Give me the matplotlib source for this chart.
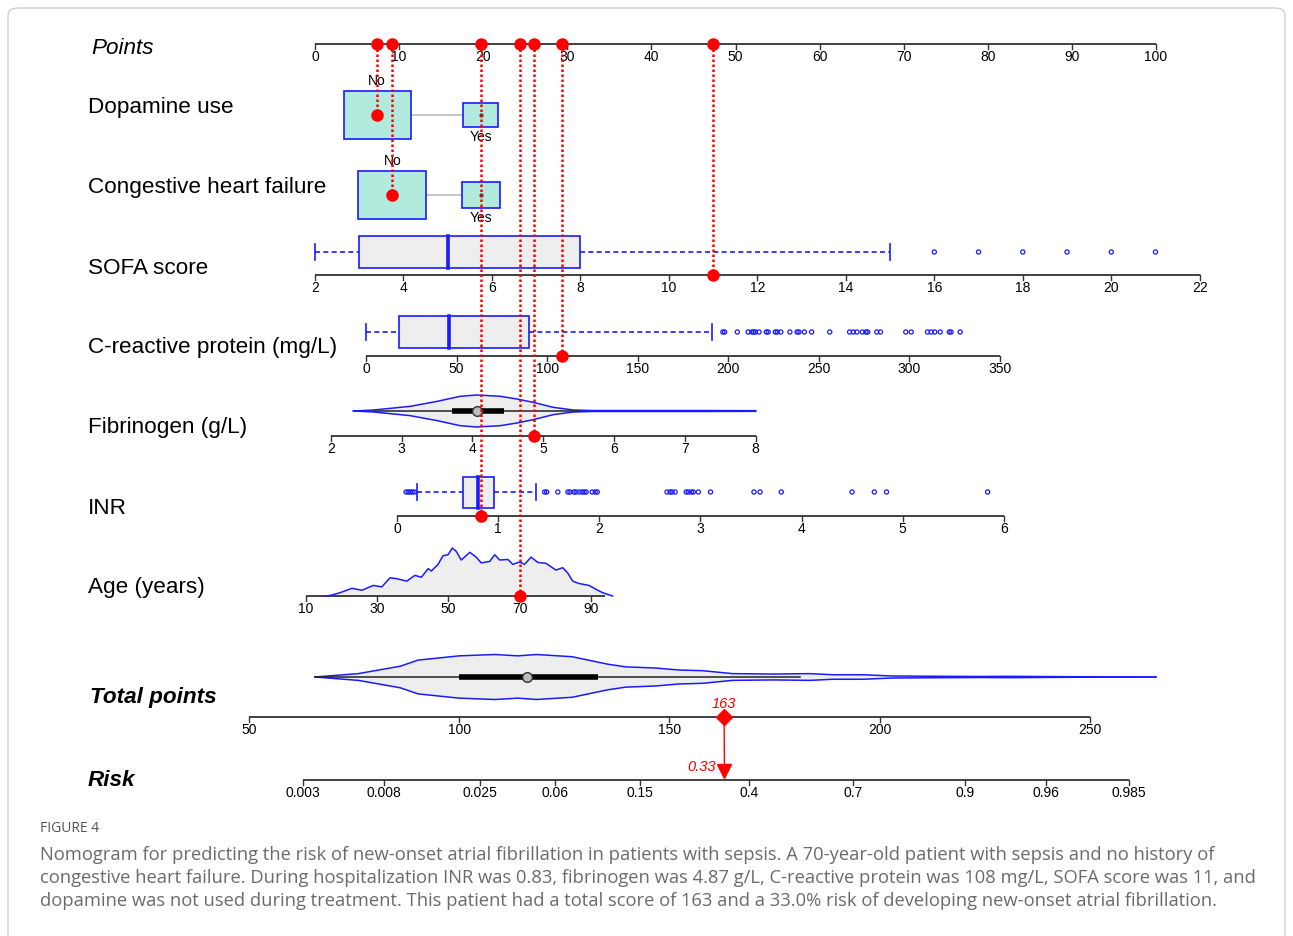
import numpy as np
import matplotlib
matplotlib.use('Agg')
import matplotlib.pyplot as plt
from matplotlib.patches import Rectangle, FancyBboxPatch

plt.rcParams['font.family'] = ['Liberation Sans', 'DejaVu Sans']

# ---- data ----
# categorical rows: points for No / Yes
dop_points = {'No': 7.4, 'Yes': 19.7}
chf_points = {'No': 9.2, 'Yes': 19.7}

# continuous rows: value range and the points that range spans
sofa_rng, sofa_pts = (2, 22), (0.0, 105.2)
crp_rng, crp_pts = (0, 350), (6.06, 81.45)
fib_rng, fib_pts = (2, 8), (1.87, 52.4)
inr_rng, inr_pts = (0, 6), (9.75, 81.9)
age_rng, age_pts = (10, 90), (-1.07, 32.8)
tot_rng, tot_pts = (50, 250), (-7.85, 92.15)
risk_a, risk_b = -9.0, 0.05085   # logit(risk) = a + b * total

sofa_ticks = list(range(2, 23, 2))
crp_ticks = list(range(0, 351, 50))
fib_ticks = list(range(2, 9))
inr_ticks = list(range(0, 7))
age_ticks = [10, 30, 50, 70, 90]
tot_ticks = [50, 100, 150, 200, 250]
risk_ticks = [0.003, 0.008, 0.025, 0.06, 0.15, 0.4, 0.7, 0.9, 0.96, 0.985]
risk_labels = ['0.003', '0.008', '0.025', '0.06', '0.15', '0.4', '0.7', '0.9', '0.96', '0.985']

# box plot summaries
sofa_box = dict(lo=2, q1=3, med=5, q3=8, hi=15)
sofa_out = [16, 17, 18, 19, 20, 21]
crp_box = dict(lo=0, q1=18, med=46, q3=90, hi=191)
crp_out = [197, 198, 205, 211, 213, 214, 215, 217, 221, 222, 226, 227, 229, 234,
           238, 239, 242, 246, 256, 267, 269, 271, 274, 276, 277, 282, 284, 298,
           301, 310, 312, 314, 317, 322, 323, 328]
inr_box = dict(lo=0.20, q1=0.65, med=0.80, q3=0.96, hi=1.37)
inr_out = [0.09, 0.11, 0.13, 0.15, 0.17, 1.46, 1.48, 1.59, 1.69, 1.71, 1.75, 1.77,
           1.80, 1.83, 1.85, 1.87, 1.93, 1.96, 1.98, 2.67, 2.70, 2.72, 2.75, 2.86,
           2.88, 2.91, 2.93, 2.98, 3.10, 3.53, 3.59, 3.80, 4.50, 4.72, 4.84, 5.84]

# fibrinogen violin (relative half-width)
fib_x = [2.32, 2.6, 3.12, 3.5, 3.83, 4.06, 4.39, 4.63, 4.86, 5.14, 5.43, 5.7, 6.5, 7.3, 8.0]
fib_w = [0, 0.06, 0.29, 0.6, 0.92, 1.0, 0.92, 0.75, 0.54, 0.23, 0.06, 0.03, 0.03, 0.03, 0.02]
fib_inner = dict(lo=2.6, q1=3.71, med=4.07, q3=4.44, hi=5.5)

# age density (relative height)
age_x = [15, 16.8, 19.6, 22.9, 25.7, 28.9, 31.3, 33.6, 35.5, 38.3, 40.6, 42.4, 44.3,
         45.2, 47.1, 48.5, 49.9, 51.1, 52.2, 53.6, 56, 57.8, 59.2, 61.6, 63, 64.4,
         66.7, 68.1, 70, 71.4, 73.2, 75.1, 77.4, 80.2, 82.1, 83.5, 84.9, 86.7, 89.5,
         91.4, 93.3, 96.1]
age_d = [0, 0.01, 0.07, 0.16, 0.12, 0.22, 0.19, 0.38, 0.36, 0.31, 0.43, 0.39, 0.57,
         0.52, 0.66, 0.84, 0.86, 1.0, 0.93, 0.75, 0.91, 0.81, 0.69, 0.72, 0.86, 0.75,
         0.76, 0.66, 0.71, 0.66, 0.81, 0.70, 0.68, 0.54, 0.59, 0.48, 0.31, 0.26, 0.22,
         0.14, 0.07, 0.0]

# total points violin (relative half-width)
tot_x = [65.7, 76, 86, 90.2, 100, 108.5, 114, 118.4, 126.9, 135.3, 139.6, 146.6,
         152.3, 157.9, 165, 174.8, 183.3, 189, 196, 203, 210, 224, 231, 245, 265.7]
tot_w = [0, 0.15, 0.48, 0.75, 0.94, 1.0, 0.94, 1.0, 0.9, 0.57, 0.45, 0.4, 0.31, 0.28,
         0.15, 0.13, 0.15, 0.1, 0.1, 0.045, 0.036, 0.022, 0.03, 0.013, 0]
tot_inner = dict(lo=65.7, q1=100, med=116, q3=133, hi=181)

# the example patient
patient = dict(dop='No', chf='No', sofa=11, crp=108, fib=4.87, inr=0.83, age=70)
patient_total = 163
patient_risk = 0.33


def lin(v, rng, pts):
    v = np.asarray(v, dtype=float)
    return pts[0] + (v - rng[0]) / (rng[1] - rng[0]) * (pts[1] - pts[0])


def risk_to_pts(r):
    r = np.asarray(r, dtype=float)
    t = (np.log(r / (1 - r)) - risk_a) / risk_b
    return lin(t, tot_rng, tot_pts)


BLUE = '#1a1aff'
RED = '#ff0000'
AX = '#333333'
LABEL_FS = 16.2
TICK_FS = 10

fig = plt.figure(figsize=(12.93, 9.36), dpi=100)
ax = fig.add_axes([0, 0, 1, 1])
ax.set_xlim(-315 / 8.41, (1293 - 315) / 8.41)
ax.set_ylim(936, 0)
ax.axis('off')

# frame
ax.add_patch(FancyBboxPatch((8 / 1293, -0.05), 1277 / 1293, 1.05 - 8 / 936,
                            boxstyle='round,pad=0,rounding_size=0.008',
                            transform=ax.transAxes, fc='none', ec='#d0d0d0', lw=1))


def draw_axis(y, ticks, xs, labels, x0=None, x1=None, fs=TICK_FS):
    xs = list(xs)
    a = xs[0] if x0 is None else x0
    b = xs[-1] if x1 is None else x1
    ax.plot([a, b], [y, y], color=AX, lw=1.3, solid_capstyle='butt', zorder=2)
    for x, lab in zip(xs, labels):
        ax.plot([x, x], [y, y + 5], color=AX, lw=1, zorder=2)
        ax.text(x, y + 13, lab, ha='center', va='center', fontsize=fs, color='black')


def boxplot(y, box, out, rng, pts, hh=16):
    q1, q3 = lin(box['q1'], rng, pts), lin(box['q3'], rng, pts)
    lo, hi, md = lin(box['lo'], rng, pts), lin(box['hi'], rng, pts), lin(box['med'], rng, pts)
    ax.add_patch(Rectangle((q1, y - hh), q3 - q1, 2 * hh, fc='#eeeeee', ec=BLUE, lw=1.2, zorder=3))
    ax.plot([md, md], [y - hh, y + hh], color=BLUE, lw=2.6, zorder=4)
    ax.plot([lo, q1], [y, y], color=BLUE, lw=1.2, ls=(0, (3, 2)), zorder=3)
    ax.plot([q3, hi], [y, y], color=BLUE, lw=1.2, ls=(0, (3, 2)), zorder=3)
    for c in (lo, hi):
        ax.plot([c, c], [y - 8, y + 8], color=BLUE, lw=1.2, zorder=3)
    ax.scatter(lin(out, rng, pts), [y] * len(out), s=9, facecolors='none',
               edgecolors=BLUE, linewidths=0.9, zorder=3)


def violin(y, xs, ws, inner, hw):
    xs = np.asarray(xs)
    ws = np.asarray(ws) * hw
    ax.fill_between(xs, y - ws, y + ws, color='#eeeeee', lw=0, zorder=2)
    ax.plot(xs, y - ws, color=BLUE, lw=1.1, zorder=3)
    ax.plot(xs, y + ws, color=BLUE, lw=1.1, zorder=3)
    ax.plot([inner['lo'], inner['hi']], [y, y], color='#222222', lw=1.1, zorder=4)
    ax.plot([inner['q1'], inner['q3']], [y, y], color='black', lw=4, solid_capstyle='butt', zorder=4)
    ax.plot(inner['med'], y, 'o', ms=7, mfc='#bbbbbb', mec='#333333', mew=1, zorder=5)


def catrow(y, pts, sizes):
    no, yes = pts['No'], pts['Yes']
    (wn, hn), (wy, hy) = sizes
    ax.plot([no + wn, yes - wy], [y, y], color='#bbbbbb', lw=1.2, zorder=2)
    ax.add_patch(Rectangle((no - wn, y - hn), 2 * wn, 2 * hn, fc='#b3eade', ec=BLUE, lw=1.2, zorder=3))
    ax.add_patch(Rectangle((yes - wy, y - hy), 2 * wy, 2 * hy, fc='#b3eade', ec=BLUE, lw=1.2, zorder=3))
    ax.plot(yes, y, 'o', ms=2, color='#333333', zorder=4)
    ax.text(no, y - hn - 10, 'No', ha='center', va='center', fontsize=TICK_FS)
    ax.text(yes, y + hy + 10, 'Yes', ha='center', va='center', fontsize=TICK_FS)


# ---- row labels ----
LX = -(315 - 88) / 8.41
ax.text(-(315 - 91) / 8.41, 49, 'Points', fontsize=LABEL_FS, style='italic', va='center')
rows = [('Dopamine use', 108), ('Congestive heart failure', 188), ('SOFA score', 268),
        ('C-reactive protein (mg/L)', 348), ('Fibrinogen (g/L)', 428), ('INR', 508),
        ('Age (years)', 588)]
for name, y in rows:
    ax.text(LX, y, name, fontsize=LABEL_FS, va='center')
ax.text(-(315 - 90) / 8.41, 697, 'Total points', fontsize=LABEL_FS, style='italic', weight='bold', va='center')
ax.text(LX, 781, 'Risk', fontsize=LABEL_FS, style='italic', weight='bold', va='center')

# ---- points axis ----
pt_ticks = list(range(0, 101, 10))
draw_axis(44, pt_ticks, pt_ticks, [str(t) for t in pt_ticks])

# ---- categorical rows ----
catrow(115, dop_points, ((4.0, 24), (2.05, 12)))
catrow(195, chf_points, ((4.05, 24), (2.25, 13)))

# ---- SOFA ----
boxplot(252, sofa_box, sofa_out, sofa_rng, sofa_pts)
draw_axis(275, sofa_ticks, lin(sofa_ticks, sofa_rng, sofa_pts), [str(t) for t in sofa_ticks])

# ---- CRP ----
boxplot(332, crp_box, crp_out, crp_rng, crp_pts)
draw_axis(356, crp_ticks, lin(crp_ticks, crp_rng, crp_pts), [str(t) for t in crp_ticks])

# ---- Fibrinogen ----
fi = {k: float(lin(v, fib_rng, fib_pts)) for k, v in fib_inner.items()}
violin(411, lin(fib_x, fib_rng, fib_pts), fib_w, fi, 16)
draw_axis(436, fib_ticks, lin(fib_ticks, fib_rng, fib_pts), [str(t) for t in fib_ticks])

# ---- INR ----
boxplot(492, inr_box, inr_out, inr_rng, inr_pts, hh=15.5)
draw_axis(516, inr_ticks, lin(inr_ticks, inr_rng, inr_pts), [str(t) for t in inr_ticks])

# ---- Age ----
ax_x = lin(age_x, age_rng, age_pts)
ad = np.asarray(age_d) * 48
ax.fill_between(ax_x, 596 - ad, 596, color='#eeeeee', lw=0, zorder=1)
ax.plot(ax_x, 596 - ad, color=BLUE, lw=1.1, zorder=3)
draw_axis(596, age_ticks, lin(age_ticks, age_rng, age_pts), [str(t) for t in age_ticks],
          x1=float(lin(94, age_rng, age_pts)))

# ---- Total points ----
ti = {k: float(lin(v, tot_rng, tot_pts)) for k, v in tot_inner.items()}
violin(677, lin(tot_x, tot_rng, tot_pts), tot_w, ti, 22.5)
draw_axis(717, tot_ticks, lin(tot_ticks, tot_rng, tot_pts), [str(t) for t in tot_ticks])

# ---- Risk ----
draw_axis(780, risk_ticks, risk_to_pts(risk_ticks), risk_labels)

# ---- patient lines ----
p_vals = [
    (dop_points[patient['dop']], 115),
    (chf_points[patient['chf']], 195),
    (float(lin(patient['sofa'], sofa_rng, sofa_pts)), 275),
    (float(lin(patient['crp'], crp_rng, crp_pts)), 356),
    (float(lin(patient['fib'], fib_rng, fib_pts)), 436),
    (float(lin(patient['inr'], inr_rng, inr_pts)), 516),
    (float(lin(patient['age'], age_rng, age_pts)), 596),
]
for x, y in p_vals:
    ax.plot([x, x], [44, y], color=RED, lw=1.8, ls=(0, (1, 1)), zorder=6)
    ax.plot([x, x], [44, y], 'o', color=RED, ms=8, ls='none', zorder=7)

tx = float(lin(patient_total, tot_rng, tot_pts))
rx = float(risk_to_pts(patient_risk))
ax.plot([tx, rx], [717, 772], color=RED, lw=1, zorder=6)
ax.plot(tx, 717, 'D', color=RED, ms=8, zorder=7)
ax.plot(rx, 771, 'v', color=RED, ms=10, zorder=7)
ax.text(tx, 704, str(patient_total), color=RED, style='italic', fontsize=10.5, ha='center', va='center')
ax.text(rx - 1, 767, f'{patient_risk:.2f}', color=RED, style='italic', fontsize=10.5, ha='right', va='center')

# ---- caption ----
CX = -(315 - 40) / 8.41
ax.text(CX, 829, 'FIGURE 4', fontsize=10, color='#555555', va='center', family=['Open Sans', 'DejaVu Sans'])
cap = ['Nomogram for predicting the risk of new-onset atrial fibrillation in patients with sepsis. A 70-year-old patient with sepsis and no history of',
       'congestive heart failure. During hospitalization INR was 0.83, fibrinogen was 4.87 g/L, C-reactive protein was 108 mg/L, SOFA score was 11, and',
       'dopamine was not used during treatment. This patient had a total score of 163 and a 33.0% risk of developing new-onset atrial fibrillation.']
for i, line in enumerate(cap):
    ax.text(CX, 855 + 23 * i, line, fontsize=13.2, color='#6b6b6b', va='center',
            family=['Open Sans', 'DejaVu Sans'])

fig.savefig('out.png', dpi=100)
